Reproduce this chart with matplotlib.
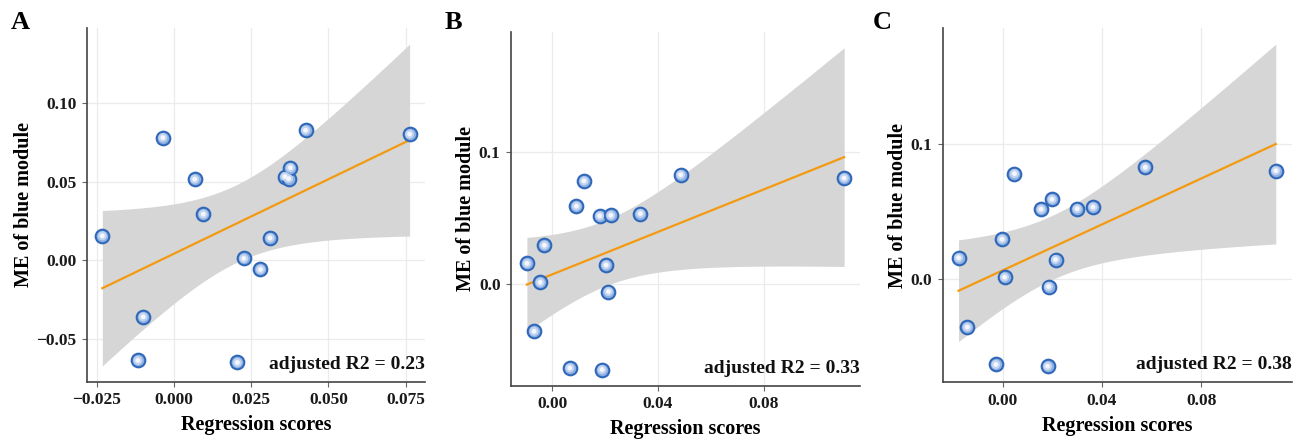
import numpy as np
import matplotlib
matplotlib.use('Agg')
import matplotlib.pyplot as plt

# ME of blue module (same 15 samples in every panel)
me_values = [0.0155, -0.0361, -0.0639, 0.0781, 0.0516, 0.0293, 0.0011, -0.0652,
             -0.0059, 0.0142, 0.0533, 0.0520, 0.0590, 0.0828, 0.0803]

# regression scores per panel, same sample order as me_values
scores_a = [-0.0232, -0.0100, -0.0117, -0.0036, 0.0067, 0.0095, 0.0226, 0.0205,
            0.0280, 0.0311, 0.0359, 0.0371, 0.0377, 0.0426, 0.0763]
scores_b = [-0.0095, -0.0068, 0.0067, 0.0121, 0.0180, -0.0029, -0.0045, 0.0189,
            0.0213, 0.0204, 0.0334, 0.0222, 0.0092, 0.0486, 0.1104]
scores_c = [-0.0177, -0.0142, -0.0027, 0.0048, 0.0155, -0.0002, 0.0008, 0.0181,
            0.0185, 0.0213, 0.0364, 0.0300, 0.0199, 0.0574, 0.1099]

panel_letters = ['A', 'B', 'C']
r2_labels = ['adjusted R2 = 0.23', 'adjusted R2 = 0.33', 'adjusted R2 = 0.38']
x_ticks = [[-0.025, 0.0, 0.025, 0.05, 0.075], [0.0, 0.04, 0.08], [0.0, 0.04, 0.08]]
x_ticklabels = [['\u22120.025', '0.000', '0.025', '0.050', '0.075'],
                ['0.00', '0.04', '0.08'], ['0.00', '0.04', '0.08']]
y_ticks = [[-0.05, 0.0, 0.05, 0.10], [0.0, 0.1], [0.0, 0.1]]
y_ticklabels = [['\u22120.05', '0.00', '0.05', '0.10'], ['0.0', '0.1'], ['0.0', '0.1']]

plt.rcParams['font.family'] = ['Liberation Serif', 'DejaVu Serif']
plt.rcParams['font.weight'] = 'bold'

T_975_13 = 2.1604  # t quantile, df = 13


def lm_band(x, y, n_grid=80):
    x = np.asarray(x)
    y = np.asarray(y)
    slope, intercept = np.polyfit(x, y, 1)
    resid = y - (slope * x + intercept)
    s = np.sqrt(np.sum(resid ** 2) / (len(x) - 2))
    sxx = np.sum((x - x.mean()) ** 2)
    xg = np.linspace(x.min(), x.max(), n_grid)
    fit = slope * xg + intercept
    se = s * np.sqrt(1 / len(x) + (xg - x.mean()) ** 2 / sxx)
    return xg, fit, fit - T_975_13 * se, fit + T_975_13 * se


def draw_panel(ax, x, y, r2_text, xt, xtl, yt, ytl):
    xg, fit, lo, hi = lm_band(x, y)
    ax.fill_between(xg, lo, hi, color='#d6d6d6', lw=0, zorder=1)
    ax.plot(xg, fit, color='#f39a10', lw=1.6, zorder=2)

    # shaded marker: dark rim, lighter core
    ax.scatter(x, y, s=96, facecolor='#8fb0e2', edgecolor='#2f68b8', linewidth=1.5, zorder=3)
    ax.scatter(x, y, s=42, facecolor='#c3d4f0', edgecolor='none', zorder=4)
    ax.scatter(x, y, s=12, facecolor='#f4f7fc', edgecolor='none', zorder=5)

    # limits like ggplot: 5% expansion of data + band
    x_lo, x_hi = min(x), max(x)
    y_lo, y_hi = min(min(y), lo.min()), max(max(y), hi.max())
    dx, dy = (x_hi - x_lo) * 0.05, (y_hi - y_lo) * 0.05
    ax.set_xlim(x_lo - dx, x_hi + dx)
    ax.set_ylim(y_lo - dy, y_hi + dy)

    ax.set_xticks(xt)
    ax.set_xticklabels(xtl)
    ax.set_yticks(yt)
    ax.set_yticklabels(ytl)
    ax.grid(True, color='#ebebeb', lw=0.9, zorder=0)
    ax.set_axisbelow(True)
    for side in ['top', 'right']:
        ax.spines[side].set_visible(False)
    for side in ['left', 'bottom']:
        ax.spines[side].set_color('#444444')
        ax.spines[side].set_linewidth(1.2)
    ax.tick_params(axis='both', length=3.5, width=0.8, color='#666666',
                   labelsize=12.5, pad=4, labelcolor='#1a1a1a')
    ax.set_xlabel('Regression scores', fontsize=14.5, fontweight='bold', labelpad=5)
    ax.set_ylabel('ME of blue module', fontsize=14.5, fontweight='bold', labelpad=2)
    ax.text(1.0, 0.025, r2_text, transform=ax.transAxes, ha='right', va='bottom',
            fontsize=14, fontweight='bold', color='#111111')


fig = plt.figure(figsize=(13.08, 4.40), dpi=100)
positions = [
    [0.0665, 0.1318, 0.2584, 0.8046],
    [0.3907, 0.1234, 0.2668, 0.8046],
    [0.7207, 0.1311, 0.2668, 0.8053],
]
letter_x = [0.008, 0.340, 0.667]
all_scores = [scores_a, scores_b, scores_c]

for i in range(3):
    ax = fig.add_axes(positions[i])
    draw_panel(ax, all_scores[i], me_values, r2_labels[i],
               x_ticks[i], x_ticklabels[i], y_ticks[i], y_ticklabels[i])
    fig.text(letter_x[i], 0.975, panel_letters[i], fontsize=19, fontweight='bold',
             ha='left', va='top')

fig.savefig('out.png', dpi=100, facecolor='white')
